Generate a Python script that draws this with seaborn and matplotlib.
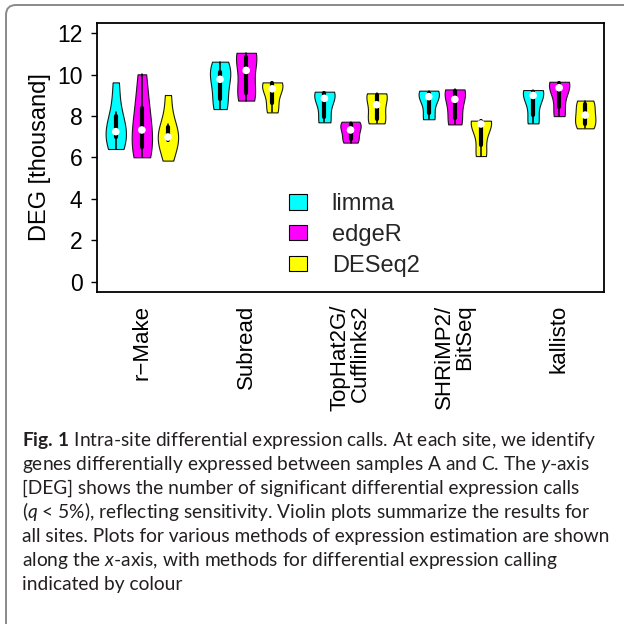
import numpy as np
import pandas as pd
import matplotlib
matplotlib.use("Agg")
import matplotlib.pyplot as plt
from matplotlib.patches import Patch, FancyBboxPatch
import seaborn as sns

# ---------------- data (DEG counts in thousands, one value per site) ----------------
pipelines = ["r\u2212Make", "Subread", "TopHat2G/\nCufflinks2", "SHRiMP2/\nBitSeq", "kallisto"]
methods = ["limma", "edgeR", "DESeq2"]
method_colors = ["#00FFFF", "#FF00FF", "#FFFF00"]

limma_deg = [
    [6.41, 6.95, 7.10, 7.40, 8.20, 9.63],
    [8.34, 8.60, 9.45, 10.11, 10.16, 10.63],
    [7.70, 7.74, 8.65, 9.07, 9.11, 9.18],
    [7.85, 7.91, 8.80, 9.08, 9.11, 9.23],
    [7.65, 7.80, 8.85, 9.15, 9.20, 9.26],
]
edger_deg = [
    [6.01, 6.40, 6.90, 7.76, 8.60, 10.02],
    [8.75, 8.95, 9.57, 10.85, 10.88, 11.06],
    [6.72, 6.80, 7.20, 7.46, 7.68, 7.73],
    [7.60, 7.70, 8.50, 9.12, 9.26, 9.29],
    [8.00, 8.20, 9.20, 9.54, 9.62, 9.66],
]
deseq2_deg = [
    [5.85, 6.80, 6.95, 7.03, 7.60, 9.02],
    [8.18, 8.45, 9.15, 9.49, 9.61, 9.63],
    [7.65, 7.72, 8.20, 8.90, 9.05, 9.10],
    [6.07, 6.30, 7.50, 7.74, 7.76, 7.78],
    [7.41, 7.55, 7.90, 8.20, 8.70, 8.75],
]
y_ticks = [0, 2, 4, 6, 8, 10, 12]

caption_lines = [
    r"$\mathbf{Fig.\,1}$ Intra-site differential expression calls. At each site, we identify",
    r"genes differentially expressed between samples A and C. The $\mathit{y}$-axis",
    "[DEG] shows the number of significant differential expression calls",
    r"($\mathit{q}$ < 5%), reflecting sensitivity. Violin plots summarize the results for",
    "all sites. Plots for various methods of expression estimation are shown",
    r"along the $\mathit{x}$-axis, with methods for differential expression calling",
    "indicated by colour",
]

# ---------------- long table ----------------
rows = []
series = [limma_deg, edger_deg, deseq2_deg]
for i, p in enumerate(pipelines):
    for j, m in enumerate(methods):
        for v in series[j][i]:
            rows.append({"slot": 4 * i + j + 1, "method": m, "DEG": v})
df = pd.DataFrame(rows)
medians = df.groupby(["slot", "method"], as_index=False)["DEG"].median()

# ---------------- style ----------------
sns.set_style("white")
plt.rcParams["font.family"] = ["Liberation Sans", "DejaVu Sans"]
plt.rcParams["mathtext.fontset"] = "custom"
plt.rcParams["mathtext.rm"] = "Lato"
plt.rcParams["mathtext.it"] = "Lato:italic"
plt.rcParams["mathtext.bf"] = "Lato:bold"

W = 624.0
fig = plt.figure(figsize=(6.24, 6.24), dpi=100)
fig.patch.set_facecolor("white")
ax = fig.add_axes([97 / W, 1 - 292 / W, 507 / W, 269 / W])

sns.violinplot(
    data=df, x="slot", y="DEG", hue="method", hue_order=methods,
    palette=method_colors, native_scale=True, dodge=False,
    density_norm="width", cut=0, width=0.78, saturation=1,
    linecolor="#1a1a1a", linewidth=0.8, inner="box",
    inner_kws=dict(box_width=3.0, whis_width=1.1, marker="o", color="black"),
    legend=False, ax=ax,
)
sns.scatterplot(data=medians, x="slot", y="DEG", color="white", s=30,
                edgecolor="none", zorder=6, legend=False, ax=ax)

ax.set_xlim(0.28, 19.72)
ax.set_ylim(-0.5, 12.5)
ax.set_yticks(y_ticks)
ax.set_yticklabels([str(t) for t in y_ticks], fontsize=16.5)
ax.set_xticks([4 * i + 2 for i in range(len(pipelines))])
ax.set_xticklabels(pipelines, rotation=90, multialignment="right",
                   linespacing=0.95, fontsize=16)
ax.tick_params(axis="x", length=0, pad=9, colors="black")
ax.tick_params(axis="y", left=True, length=4.5, width=1, pad=6, colors="black",
               direction="out")
ax.set_xlabel("")
ax.set_ylabel("DEG [thousand]", fontsize=17, labelpad=4, color="black")
for s in ax.spines.values():
    s.set_linewidth(1.3)
    s.set_color("black")

handles = [Patch(facecolor=c, edgecolor="black", linewidth=0.8, label=m)
           for m, c in zip(methods, method_colors)]
ax.legend(handles=handles, loc="upper left",
          bbox_to_anchor=(289 / W, 1 - 193 / W), bbox_transform=fig.transFigure,
          frameon=False, fontsize=17, handlelength=0.76, handleheight=0.64,
          handletextpad=1.05, labelspacing=0.38, borderpad=0, borderaxespad=0)

# ---------------- caption box ----------------
box = FancyBboxPatch((6 / W, -0.1), 1.2, 1 - 5 / W + 0.1,
                     boxstyle="round,pad=0,rounding_size=0.016",
                     transform=fig.transFigure, edgecolor="#8a8a8a",
                     facecolor="none", linewidth=1.4, clip_on=False)
fig.add_artist(box)

fs = 13.0
probe = fig.text(22 / W, 0.5, caption_lines[0], fontsize=fs, family="Lato")
fig.canvas.draw()
wpx = probe.get_window_extent().width
probe.remove()
fs = fs * 574.0 / wpx

base0 = 446.0
step = 24.0
for k, line in enumerate(caption_lines):
    fig.text(22 / W, 1 - (base0 + k * step) / W, line, fontsize=fs, family="Lato",
             color="#231f20", va="baseline", ha="left")

fig.savefig("out.png", dpi=100)
